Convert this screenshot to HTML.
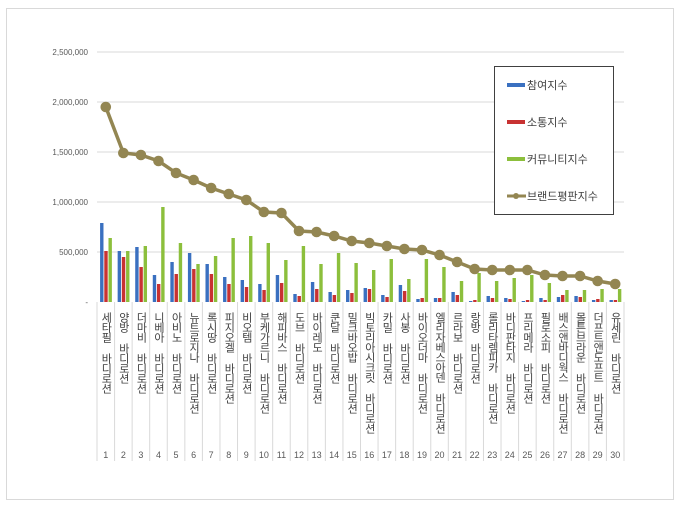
<!DOCTYPE html>
<html><head><meta charset="utf-8"><style>
body{margin:0;background:#fff;}
svg text{font-family:"Liberation Sans","Noto Sans CJK KR",sans-serif;}
</style></head><body>
<svg width="680" height="507" xmlns="http://www.w3.org/2000/svg">
<rect x="6.5" y="8.5" width="667" height="491" fill="#fff" stroke="#d9d9d9"/>
<g id="grid"></g><g id="bars"></g><g id="line"></g><g id="xlabels"></g>
<g>
<rect x="494.5" y="66.5" width="119" height="148" fill="#fff" stroke="#404040"/>
<rect x="507" y="83" width="18" height="4" fill="#3a70c0"/>
<text x="527" y="89" font-size="11" fill="#404040">참여지수</text>
<rect x="507" y="120" width="18" height="4" fill="#c83232"/>
<text x="527" y="126" font-size="11" fill="#404040">소통지수</text>
<rect x="507" y="157" width="18" height="4" fill="#8cbf3c"/>
<text x="527" y="163" font-size="11" fill="#404040">커뮤니티지수</text>
<line x1="507" y1="196" x2="526" y2="196" stroke="#938652" stroke-width="3"/>
<circle cx="516" cy="196" r="3" fill="#938652"/>
<text x="527" y="200" font-size="11" fill="#404040">브랜드평판지수</text>
</g>
</svg>
<script>
const categories=["세타필 바디로션","양방 바디로션","더마비 바디로션","니베아 바디로션","아비노 바디로션","뉴트로지나 바디로션","록시땅 바디로션","피지오겔 바디로션","비오템 바디로션","부케가르니 바디로션","해피바스 바디로션","도브 바디로션","바이레도 바디로션","쿤달 바디로션","밀크바오밥 바디로션","빅토리아시크릿 바디로션","카밀 바디로션","사봉 바디로션","바이오더마 바디로션","엘리자베스아덴 바디로션","르라보 바디로션","랑방 바디로션","롤리타렘피카 바디로션","바디판타지 바디로션","프리메라 바디로션","필로소피 바디로션","배스앤바디웍스 바디로션","몰튼브라운 바디로션","더프트앤도프트 바디로션","유세린 바디로션"];
const participation=[790000,510000,550000,270000,400000,490000,380000,250000,220000,180000,270000,80000,200000,100000,120000,140000,70000,170000,30000,40000,100000,10000,60000,40000,10000,40000,50000,60000,20000,20000];
const communication=[510000,450000,350000,180000,280000,330000,280000,180000,150000,120000,190000,60000,130000,70000,90000,130000,50000,110000,40000,40000,70000,20000,40000,30000,20000,20000,70000,50000,30000,20000];
const community=[640000,510000,560000,950000,590000,380000,460000,640000,660000,590000,420000,560000,380000,490000,390000,320000,430000,230000,430000,350000,210000,290000,210000,240000,270000,190000,120000,120000,130000,130000];
const brand=[1950000,1490000,1470000,1410000,1290000,1220000,1140000,1080000,1020000,900000,890000,710000,700000,660000,610000,590000,560000,530000,520000,470000,400000,330000,320000,320000,320000,270000,260000,260000,210000,180000];
const yTicks=[0,500000,1000000,1500000,2000000,2500000];
const yTickLabels=["-","500,000","1,000,000","1,500,000","2,000,000","2,500,000"];
const NS="http://www.w3.org/2000/svg";
const X0=97,X1=624,Y0=302,YMAX=2500000,PH=250;
const step=(X1-X0)/categories.length;
function y(v){return Y0-v/YMAX*PH;}
function xc(i){return X0+step*(i+0.5);}
function mk(t,a,p){const e=document.createElementNS(NS,t);for(const k in a)e.setAttribute(k,a[k]);p.appendChild(e);return e;}
const grid=document.getElementById('grid');
yTicks.forEach((v,i)=>{
 if(v>0){const l=mk('line',{x1:X0,x2:X1,y1:y(v),y2:y(v),stroke:'#d9d9d9'},grid);
 
 }
 const t=mk('text',{x:88,y:y(v)+3,'font-size':'8','text-anchor':'end',fill:'#595959'},grid);
 t.textContent=yTickLabels[i];
 
 
});
const bars=document.getElementById('bars');
const series=[[participation,'#3a70c0','participation'],[communication,'#c83232','communication'],[community,'#8cbf3c','community']];
const bw=3.4;
categories.forEach((c,i)=>{
 series.forEach((s,j)=>{
  const v=s[0][i];
  const r=mk('rect',{x:xc(i)-5.7+j*4.2,y:y(v),width:bw,height:Y0-y(v),fill:s[1]},bars);
  
  
 });
});
const lg=document.getElementById('line');
const pl=mk('polyline',{points:brand.map((v,i)=>xc(i)+','+y(v)).join(' '),fill:'none',stroke:'#938652','stroke-width':3.5},lg);


brand.forEach((v,i)=>{
 const c=mk('circle',{cx:xc(i),cy:y(v),r:5.3,fill:'#938652'},lg);
 
 
});
const xl=document.getElementById('xlabels');
for(let i=0;i<=categories.length;i++){
 const l=mk('line',{x1:X0+step*i,x2:X0+step*i,y1:Y0,y2:461,stroke:'#d9d9d9'},xl);
 
 
}
categories.forEach((c,i)=>{
 const t=mk('text',{x:xc(i),y:312,'font-size':'11',fill:'#404040','writing-mode':'tb','glyph-orientation-vertical':'0',style:'writing-mode:vertical-rl;text-orientation:upright;letter-spacing:-1px'},xl);
 t.textContent=c;
 
 
 const n=mk('text',{x:xc(i),y:458,'font-size':'9','text-anchor':'middle',fill:'#595959'},xl);
 n.textContent=String(i+1);
 
 
});
</script>
</body></html>
